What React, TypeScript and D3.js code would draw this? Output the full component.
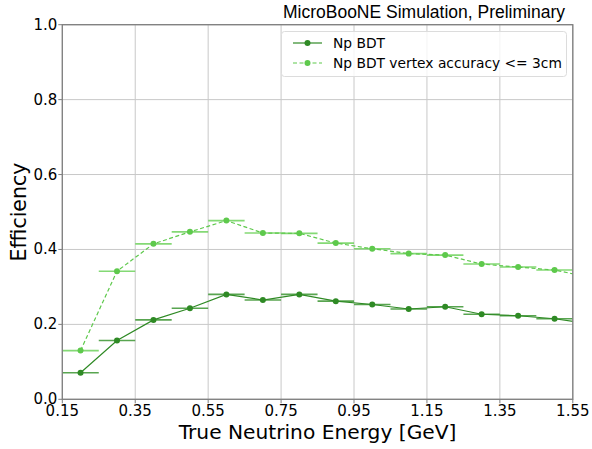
import React from 'react';
import * as d3 from 'd3';

// bin centres (GeV); the last one sits just past the axis and is clipped
const energies = [0.2, 0.3, 0.4, 0.5, 0.6, 0.7, 0.8, 0.9, 1.0, 1.1, 1.2, 1.3, 1.4, 1.5, 1.6];
const npBdt = [0.071, 0.157, 0.212, 0.243, 0.28, 0.265, 0.28, 0.262, 0.253, 0.241, 0.247, 0.227, 0.223, 0.215, 0.201];
const npBdtVtx = [0.13, 0.342, 0.415, 0.447, 0.477, 0.444, 0.443, 0.417, 0.402, 0.389, 0.385, 0.361, 0.353, 0.345, 0.325];
const binHalfWidth = 0.05;
const xTicks = [0.15, 0.35, 0.55, 0.75, 0.95, 1.15, 1.35, 1.55];
const yTicks = [0, 0.2, 0.4, 0.6, 0.8, 1.0];
const seriesNames = ['Np BDT', 'Np BDT vertex accuracy <= 3cm'];

const W = 592;
const H = 449;
const left = 62.3;
const right = 572.8;
const top = 24.7;
const bottom = 399.3;
const font = 'DejaVu Sans, sans-serif';

export default function App() {
  const x = d3.scaleLinear().domain([0.15, 1.55]).range([left, right]);
  const y = d3.scaleLinear().domain([0, 1]).range([bottom, top]);

  const line = d3
    .line<number>()
    .x((_, i) => x(energies[i]))
    .y((d) => y(d));

  const series = [
    { name: seriesNames[0], values: npBdt, color: '#2f8a25', bar: '#3c9632', dash: undefined },
    { name: seriesNames[1], values: npBdtVtx, color: '#5ec94c', bar: '#6fd35d', dash: '4,2.5' },
  ];

  return (
    <svg width={W} height={H} style={{ position: 'absolute', left: 0, top: 0, background: '#fff' }}>
      <defs>
        <clipPath id="plot">
          <rect x={left} y={top} width={right - left} height={bottom - top} />
        </clipPath>
      </defs>

      {/* grid */}
      <g stroke="#c8c8c8" strokeWidth={1}>
        {xTicks.map((t) => (
          <line key={'gx' + t} x1={x(t)} x2={x(t)} y1={top} y2={bottom} />
        ))}
        {yTicks.map((t) => (
          <line key={'gy' + t} x1={left} x2={right} y1={y(t)} y2={y(t)} />
        ))}
      </g>

      {/* data */}
      <g clipPath="url(#plot)">
        {series.map((s) => (
          <g key={s.name}>
            {s.values.map((v, i) => (
              <line
                key={i}
                x1={x(energies[i] - binHalfWidth)}
                x2={x(energies[i] + binHalfWidth)}
                y1={y(v)}
                y2={y(v)}
                stroke={s.bar}
                strokeWidth={1.6}
                opacity={0.85}
              />
            ))}
            <path d={line(s.values) || ''} fill="none" stroke={s.color} strokeWidth={1.2} strokeDasharray={s.dash} />
            {s.values.map((v, i) => (
              <circle key={'c' + i} cx={x(energies[i])} cy={y(v)} r={3} fill={s.color} />
            ))}
          </g>
        ))}
      </g>

      {/* frame */}
      <rect x={left} y={top} width={right - left} height={bottom - top} fill="none" stroke="#7f7f7f" strokeWidth={1.3} />

      {/* ticks */}
      <g stroke="#7f7f7f" strokeWidth={1}>
        {xTicks.map((t) => (
          <line key={'tx' + t} x1={x(t)} x2={x(t)} y1={bottom} y2={bottom + 4} />
        ))}
        {yTicks.map((t) => (
          <line key={'ty' + t} x1={left - 4} x2={left} y1={y(t)} y2={y(t)} />
        ))}
      </g>
      <g fontFamily={font} fontSize={15} fill="#000">
        {xTicks.map((t) => (
          <text key={'lx' + t} x={x(t)} y={bottom + 17} textAnchor="middle">
            {d3.format('.2f')(t)}
          </text>
        ))}
        {yTicks.map((t) => (
          <text key={'ly' + t} x={left - 5} y={y(t) + 5} textAnchor="end">
            {d3.format('.1f')(t)}
          </text>
        ))}
      </g>

      {/* axis labels */}
      <text x={(left + right) / 2} y={439} textAnchor="middle" fontFamily={font} fontSize={20.2}>
        True Neutrino Energy [GeV]
      </text>
      <text
        transform={`translate(26,${(top + bottom) / 2}) rotate(-90)`}
        textAnchor="middle"
        fontFamily={font}
        fontSize={20.5}
      >
        Efficiency
      </text>

      {/* title */}
      <text x={565} y={18} textAnchor="end" fontFamily="Liberation Sans, Arial, sans-serif" fontSize={17.5}>
        MicroBooNE Simulation, Preliminary
      </text>

      {/* legend */}
      <g>
        <rect x={281.5} y={31.5} width={285} height={45} rx={3} fill="#fff" fillOpacity={0.8} stroke="#dcdcdc" />
        {series.map((s, i) => (
          <g key={'lg' + s.name} transform={`translate(0,${43 + i * 20})`}>
            <line x1={293} x2={322} y1={0} y2={0} stroke={s.color} strokeWidth={1.2} strokeDasharray={s.dash} />
            <circle cx={307.5} cy={0} r={3} fill={s.color} />
            <text x={333} y={5} fontFamily={font} fontSize={13.8}>
              {s.name}
            </text>
          </g>
        ))}
      </g>
    </svg>
  );
}
